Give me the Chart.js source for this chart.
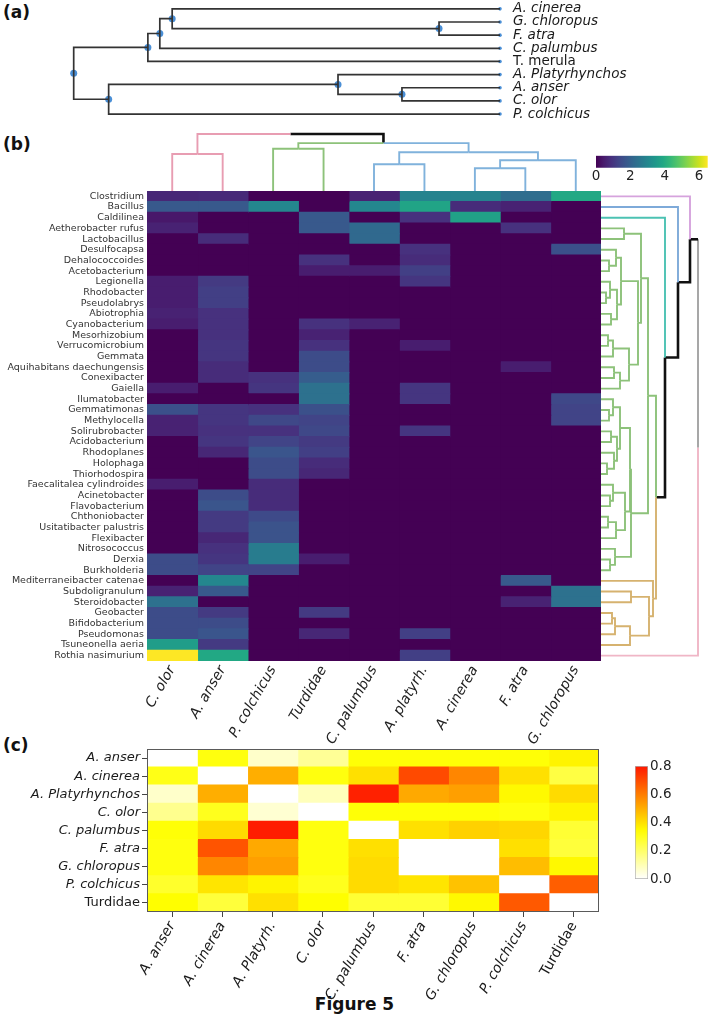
<!DOCTYPE html>
<html><head><meta charset="utf-8">
<script src="https://cdn.jsdelivr.net/npm/chart.js@4.4.1/dist/chart.umd.min.js"></script>
<style>
html,body{margin:0;padding:0;background:#fff;}
#fig{position:relative;width:709px;height:1015px;overflow:hidden;background:#fff;font-family:'DejaVu Sans',sans-serif;}
.lab{position:absolute;font-weight:bold;font-size:17px;color:#111;line-height:1;white-space:nowrap;}
canvas{position:absolute;}
</style></head><body><div id="fig">
<div class="lab" style="left:3px;top:4px">(a)</div>
<div class="lab" style="left:3px;top:136px">(b)</div>
<div class="lab" style="left:3px;top:737px">(c)</div>
<div class="lab" style="left:0;width:709px;text-align:center;top:996px">Figure 5</div>
</div>
<script>
// ---------------- DATA ----------------
// (a) tree
const treeLeaves = ['A. cinerea','G. chloropus','F. atra','C. palumbus','T. merula','A. Platyrhynchos','A. anser','C. olor','P. colchicus'];
const treeItalic = [true,true,true,true,false,true,true,true,true];
const treeLeafDepth = 1;
// [node depth, child, child], leaves = index in treeLeaves
const treeTopology = [0, [0.174, [0.202, [0.231, 0, [0.857, 1, 2]], 3], 4], [0.082, [0.62, 5, [0.77, 6, 7]], 8]];

// (b) heatmap
const bRows = ['Clostridium','Bacillus','Caldilinea','Aetherobacter rufus','Lactobacillus','Desulfocapsa','Dehalococcoides','Acetobacterium','Legionella','Rhodobacter','Pseudolabrys','Abiotrophia','Cyanobacterium','Mesorhizobium','Verrucomicrobium','Gemmata','Aquihabitans daechungensis','Conexibacter','Gaiella','Ilumatobacter','Gemmatimonas','Methylocella','Solirubrobacter','Acidobacterium','Rhodoplanes','Holophaga','Thiorhodospira','Faecalitalea cylindroides','Acinetobacter','Flavobacterium','Chthoniobacter','Usitatibacter palustris','Flexibacter','Nitrosococcus','Derxia','Burkholderia','Mediterraneibacter catenae','Subdoligranulum','Steroidobacter','Geobacter','Bifidobacterium','Pseudomonas','Tsuneonella aeria','Rothia nasimurium'];
const bCols = ['C. olor','A. anser','P. colchicus','Turdidae','C. palumbus','A. platyrh.','A. cinerea','F. atra','G. chloropus'];
const bOlor      = [0.7,1.8,0.4,0.6,0,0,0,0,0.5,0.5, 0.5,0.6,0.5,0,0,0,0,0,0.5,0, 1.6,0.6,0.6,0,0,0,0,0.5,0,0, 0,0,0,0,1.5,1.5,0,0.6,2.4,1.5, 1.5,1.5,3.6,6.5];
const bAnser     = [0.75,1.8,0,0,0.8,0,0,0,1.1,1.2, 1.2,0.9,0.9,0.9,1.0,1.0,0.8,0.8,0,0, 1.0,1.0,0.9,1.0,0.7,0,0,0,1.5,1.7, 1.1,1.1,0.7,0.9,1.0,1.3,3.0,1.8,0,1.1, 1.5,1.7,1.1,3.9];
const bColchicus = [0,3.0,0,0,0,0,0,0,0,0, 0,0,0,0,0,0,0,0.9,1.0,0, 0.9,1.4,0.9,1.3,1.7,1.5,1.5,0.8,0.8,0.8, 1.45,1.65,1.65,2.7,2.7,1.3,0,0,0,0, 0,0,0,0];
const bTurdidae  = [0,0,1.8,1.8,0,0,0.9,0.5,0,0, 0,0,0.9,0.6,0.9,1.5,1.5,1.9,2.4,2.4, 1.6,1.3,1.4,1.1,1.2,0.8,0.7,0,0,0, 0,0,0,0,0.5,0,0,0,0,1.1, 0,0.7,0,0];
const bPalumbus  = [0.6,3.0,0,2.2,2.2,0,0,0.5,0,0, 0,0,0.6,0,0,0,0,0,0,0, 0,0,0,0,0,0,0,0,0,0, 0,0,0,0,0,0,0,0,0,0, 0,0,0,0];
const bPlatyrh   = [2.9,3.8,0.9,0,0,0.9,0.8,1.2,1.0,0, 0,0,0,0,0.5,0,0,0,1.0,1.0, 0,0,1.0,0,0,0,0,0,0,0, 0,0,0,0,0,0,0,0,0,0, 0,1.2,0,1.2];
const bCinerea   = [2.9,0.8,3.7,0,0,0,0,0,0,0, 0,0,0,0,0,0,0,0,0,0, 0,0,0,0,0,0,0,0,0,0, 0,0,0,0,0,0,0,0,0,0, 0,0,0,0];
const bAtra      = [2.3,0.6,0,0.9,0,0,0,0,0,0, 0,0,0,0,0,0,0.5,0,0,0, 0,0,0,0,0,0,0,0,0,0, 0,0,0,0,0,0,1.8,0,0.6,0, 0,0,0,0];
const bChloropus = [3.9,0,0,0,0,1.6,0,0,0,0, 0,0,0,0,0,0,0,0,0,1.4, 1.3,1.3,0,0,0,0,0,0,0,0, 0,0,0,0,0,0,0,2.4,2.4,0, 0,0,0,0];
const bVmax = 6.5;
const bColorbarTicks = [0,2,4,6];
// dendrograms: [height, child, child]; leaves = row / column index
const bRowCluster = ['lav','blue','teal','green','green','green','green','green','green','green','green','green','green','green','green','green','green','green','green','green','green','green','green','green','green','green','green','green','green','green','green','green','green','green','green','green','tan','tan','tan','tan','tan','tan','tan','pink'];
const bRowTree = [9.7,
  [8.9, 0, [7.7, 1, [6.4, 2, [5.5,
    [4.7,
      [4.0, [2.3, 3, 4],
        [3.7,
          [2.0, [1.5, 5, [0.8, 6, 7]], [1.6, [0.9, 8, [0.5, 9, 10]], [1.0, 11, 12]]],
          [2.8, [1.2, [0.7, 13, 14], 15], [1.9, [1.3, 16, 17], 18]]]],
      [3.0,
        [2.9,
          [1.9, [1.2, 19, [0.8, 20, 21]], [1.6, [1.0, 22, 23], [1.3, 24, [0.6, 25, 26]]]],
          [2.4, [1.2, 27, [0.9, 28, 29]], [1.5, [0.7, 30, 31], 32]]],
        [1.4, 33, [0.9, 34, 35]]]],
    [5.2, 36, [4.8, [3.0, 37, 38], [2.9, [1.4, [1.1, 39, 40], 41], 42]]]]]]],
  43];
const bColCluster = ['pink','pink','green','green','blue','blue','blue','blue','blue'];
const bColTree = [10, [6.5, 0, 1], [8.4, [7.4, 2, 3], [6.8, [4.7, 4, 5], [5.4, [4.0, 6, 7], 8]]]];

// (c) heatmap
const cRowLabels = ['A. anser','A. cinerea','A. Platyrhynchos','C. olor','C. palumbus','F. atra','G. chloropus','P. colchicus','Turdidae'];
const cColLabels = ['A. anser','A. cinerea','A. Platyrh.','C. olor','C. palumbus','F. atra','G. chloropus','P. colchicus','Turdidae'];
const cAnser      = [0,0.32,0.07,0.14,0.33,0.33,0.33,0.33,0.36];
const cCinerea    = [0.31,0,0.5,0.32,0.4,0.7,0.58,0.4,0.25];
const cPlatyrhyn  = [0.07,0.5,0,0.09,0.78,0.51,0.53,0.35,0.41];
const cOlor       = [0.15,0.3,0.06,0,0.33,0.33,0.33,0.32,0.36];
const cPalumbus   = [0.33,0.41,0.79,0.32,0,0.4,0.43,0.42,0.27];
const cAtra       = [0.32,0.68,0.51,0.32,0.4,0,0,0.4,0.26];
const cChloropus  = [0.32,0.58,0.53,0.32,0.41,0,0,0.47,0.35];
const cColchicus  = [0.28,0.39,0.36,0.3,0.41,0.39,0.46,0,0.66];
const cTurdidae   = [0.34,0.26,0.4,0.34,0.27,0.27,0.35,0.67,0];
const cColorbarTicks = [0,0.2,0.4,0.6,0.8];
const cColorbarMax = 0.8;

// ---------------- STYLE HELPERS ----------------
const viridisStops = ['#440154','#481a6c','#472f7d','#414487','#39568c','#31688e','#2a788e','#23888e','#1f988b','#22a884','#35b779','#54c568','#7ad151','#a5db36','#d2e21b','#fde725'];
function hexRgb(h){return [parseInt(h.slice(1,3),16),parseInt(h.slice(3,5),16),parseInt(h.slice(5,7),16)];}
function viridis(t){
  t=Math.max(0,Math.min(1,t)); const n=viridisStops.length-1;
  const i=Math.min(n-1,Math.floor(t*n)); const f=t*n-i;
  const a=hexRgb(viridisStops[i]), b=hexRgb(viridisStops[i+1]);
  return 'rgb('+a.map((v,k)=>Math.round(v+(b[k]-v)*f)).join(',')+')';
}
const hotNorm = 1.333;
function hotR(v){
  const x=1-Math.max(0,Math.min(1,v/hotNorm));
  const cl=z=>Math.max(0,Math.min(1,z));
  const r=cl(0.0416+0.9584*x/0.365), g=cl((x-0.365)/0.381), b=cl((x-0.746)/0.254);
  return 'rgb('+Math.round(r*255)+','+Math.round(g*255)+','+Math.round(b*255)+')';
}
const rowClusterColor = {lav:'#d6a3dd', blue:'#7eaad9', teal:'#4cc2b3', green:'#8dc27a', tan:'#d6b26f', pink:'#f0b6c6', above:'#111111'};
const colClusterColor = {pink:'#e89db2', green:'#8dc27a', blue:'#80b2dc', above:'#111111'};
function noPad(s){s.paddingTop=0;s.paddingBottom=0;s.paddingLeft=0;s.paddingRight=0;}

Chart.defaults.animation = false;
Chart.defaults.responsive = false;
Chart.defaults.devicePixelRatio = 1;
Chart.defaults.events = [];
Chart.defaults.font.family = "'DejaVu Sans', sans-serif";
Chart.defaults.plugins.legend.display = false;
Chart.defaults.plugins.tooltip.enabled = false;

const fig = document.getElementById('fig');
function mkCanvas(left, top, w, h){
  const c=document.createElement('canvas'); c.width=w; c.height=h;
  c.style.left=left+'px'; c.style.top=top+'px'; c.style.width=w+'px'; c.style.height=h+'px';
  fig.appendChild(c); return c;
}

// ---------------- (a) TREE ----------------
const aSegs=[], aDots=[];
(function lay(node){
  if(typeof node==='number') return {d:treeLeafDepth, y:node};
  const a=lay(node[1]), b=lay(node[2]); const d=node[0], y=(a.y+b.y)/2;
  aSegs.push([{x:a.d,y:a.y},{x:d,y:a.y},{x:d,y:b.y},{x:b.d,y:b.y}]);
  aDots.push({x:d,y:y});
  return {d:d,y:y};
})(treeTopology);

new Chart(mkCanvas(0,0,709,125),{
  type:'scatter',
  data:{datasets:[
    ...aSegs.map(s=>({data:s, showLine:true, borderColor:'#333333', borderWidth:1.7, pointRadius:0, clip:false})),
    {data:aDots, pointRadius:3.5, pointBackgroundColor:'#4a8fd6', pointBorderWidth:0, clip:false},
    {data:treeLeaves.map((_,i)=>({x:treeLeafDepth,y:i})), pointRadius:1.8, pointBackgroundColor:'#4a8fd6', pointBorderWidth:0, clip:false}
  ]},
  options:{
    layout:{padding:{left:73.7,top:0,right:0,bottom:4.4}},
    scales:{
      x:{display:false,min:0,max:1},
      y:{position:'right',min:-0.368,max:8.5,reverse:true,
        afterFit:s=>{s.width=209;noPad(s);},
        afterBuildTicks:s=>{s.ticks=treeLeaves.map((_,i)=>({value:i}));},
        grid:{display:false,drawTicks:false},border:{display:false},
        ticks:{padding:13,color:'#1a1a1a',autoSkip:false,callback:(v,i)=>treeLeaves[i],
          font:c=>({size:13.5,style:treeItalic[c.index]?'italic':'normal'})}}
    }
  }
});

// ---------------- (b) HEATMAP ----------------
const bSeries=[bOlor,bAnser,bColchicus,bTurdidae,bPalumbus,bPlatyrh,bCinerea,bAtra,bChloropus];
new Chart(mkCanvas(0,186,601,580),{
  type:'bar',
  data:{labels:bRows, datasets:bSeries.map((col,j)=>({
    data:bRows.map(()=>[j,j+1]), backgroundColor:col.map(v=>viridis(v/bVmax)),
    borderWidth:0, inflateAmount:0.6, barPercentage:1, categoryPercentage:1, grouped:false}))},
  options:{indexAxis:'y', layout:{padding:{top:5,left:0,right:0,bottom:0}},
    scales:{
      y:{type:'category',afterFit:s=>{s.width=147;noPad(s);},grid:{display:false,drawTicks:false},border:{display:false},
        ticks:{autoSkip:false,padding:3,color:'#333',font:{size:9.5}}},
      x:{type:'linear',min:0,max:9,afterFit:s=>{s.height=105;noPad(s);},
        afterBuildTicks:s=>{s.ticks=bCols.map((_,j)=>({value:j+0.5}));},
        grid:{display:false,drawTicks:false},border:{display:false},
        ticks:{autoSkip:false,minRotation:60,maxRotation:60,padding:2,color:'#222',callback:(v,i)=>bCols[i],
          font:{size:14,style:'italic'}}}
    }}
});

// dendrogram segments
function dendroSegments(tree, clusterOf){
  const segs=[];
  (function rec(n){
    if(typeof n==='number') return {p:n+0.5,h:0,c:clusterOf[n]};
    const a=rec(n[1]), b=rec(n[2]); const m=(a.p+b.p)/2;
    [a,b].forEach(ch=>segs.push({c:ch.c, pts:[[ch.h,ch.p],[n[0],ch.p],[n[0],m]]}));
    return {p:m,h:n[0],c:a.c===b.c?a.c:'above'};
  })(tree);
  return segs;
}
function segDs(pts,color,width,horiz){
  return {data:pts.map(p=>horiz?{x:p[0],y:p[1]}:{x:p[1],y:p[0]}), showLine:true, borderColor:color, borderWidth:width, pointRadius:0, clip:false};
}

// right (row) dendrogram
const rSegs=dendroSegments(bRowTree,bRowCluster);
const rDs=[];
rSegs.forEach((s,k)=>{
  const col=rowClusterColor[s.c], w=s.c==='above'?2.6:1.9;
  if(k===rSegs.length-2){ // root upper arm: leg black, vertical gray
    rDs.push(segDs([s.pts[0],s.pts[1]],col,w,true));
    rDs.push(segDs([s.pts[1],s.pts[2]],'#8a8a8a',1.5,true));
  } else rDs.push(segDs(s.pts,col,w,true));
});
new Chart(mkCanvas(601,186,108,480),{
  type:'scatter', data:{datasets:rDs},
  options:{layout:{padding:{top:5,bottom:5,left:0,right:0}},
    scales:{x:{display:false,min:0,max:10.8},y:{display:false,min:0,max:bRows.length,reverse:true}}}
});

// top (column) dendrogram
const tSegs=dendroSegments(bColTree,bColCluster);
new Chart(mkCanvas(147,128,454,63),{
  type:'scatter', data:{datasets:tSegs.map(s=>segDs(s.pts,colClusterColor[s.c],s.c==='above'?2.6:1.9,false))},
  options:{layout:{padding:0},
    scales:{x:{display:false,min:0,max:bCols.length},y:{display:false,min:0,max:11.05}}}
});

// colorbar (b)
new Chart(mkCanvas(590,150,119,40),{
  type:'bar',
  data:{labels:['v'],datasets:[{data:[[0,bVmax]],barPercentage:1,categoryPercentage:1,borderWidth:0,
    backgroundColor:c=>{const ca=c.chart.chartArea; if(!ca) return '#440154';
      const g=c.chart.ctx.createLinearGradient(ca.left,0,ca.right,0);
      viridisStops.forEach((s,i)=>g.addColorStop(i/(viridisStops.length-1),s)); return g;}}]},
  options:{indexAxis:'y',layout:{padding:{left:6,right:1.3,top:5.7,bottom:0}},
    scales:{y:{display:false},
      x:{min:0,max:bVmax,afterFit:s=>{s.height=22.3;noPad(s);},afterBuildTicks:s=>{s.ticks=bColorbarTicks.map(v=>({value:v}));},
        grid:{display:false,drawTicks:false},border:{display:false},
        ticks:{padding:1,color:'#222',font:{size:13.5},callback:v=>String(v)}}}}
});

// ---------------- (c) HEATMAP ----------------
const cMatrix=[cAnser,cCinerea,cPlatyrhyn,cOlor,cPalumbus,cAtra,cChloropus,cColchicus,cTurdidae];
const outline={id:'outline',afterDatasetsDraw(ch){const a=ch.chartArea,g=ch.ctx;g.save();g.strokeStyle='#5a5a5a';g.lineWidth=1;
  g.strokeRect(Math.round(a.left)+0.5,Math.round(a.top)+0.5,Math.round(a.right-a.left)-1,Math.round(a.bottom-a.top)-1);g.restore();}};
new Chart(mkCanvas(0,744,620,271),{
  type:'bar',
  data:{labels:cRowLabels,datasets:cColLabels.map((_,j)=>({
    data:cRowLabels.map(()=>[j,j+1]), backgroundColor:cMatrix.map(r=>hotR(r[j])),
    borderWidth:0,inflateAmount:0.6,barPercentage:1,categoryPercentage:1,grouped:false}))},
  options:{indexAxis:'y',layout:{padding:{top:5,right:21,left:0,bottom:0}},
    scales:{
      y:{type:'category',afterFit:s=>{s.width=147;noPad(s);},
        grid:{display:true,drawOnChartArea:false,drawTicks:true,tickLength:5,color:'#444',offset:false},border:{display:false},
        ticks:{autoSkip:false,padding:2,color:'#1a1a1a',
          font:c=>({size:13,style:cRowLabels[c.index]==='Turdidae'?'normal':'italic'})}},
      x:{type:'linear',min:0,max:9,afterFit:s=>{s.height=103;noPad(s);},
        afterBuildTicks:s=>{s.ticks=cColLabels.map((_,j)=>({value:j+0.5}));},
        grid:{display:true,drawOnChartArea:false,drawTicks:true,tickLength:5,color:'#444'},border:{display:false},
        ticks:{autoSkip:false,minRotation:60,maxRotation:60,padding:2,color:'#1a1a1a',callback:(v,i)=>cColLabels[i],
          font:c=>({size:14,style:cColLabels[c.index]==='Turdidae'?'normal':'italic'})}}
    }},
  plugins:[outline]
});

// colorbar (c)
new Chart(mkCanvas(620,755,80,135),{
  type:'bar',
  data:{labels:['v'],datasets:[{data:[[0,cColorbarMax]],barPercentage:1,categoryPercentage:1,borderWidth:1,borderColor:'#b0b0b0',borderSkipped:false,
    backgroundColor:c=>{const ca=c.chart.chartArea; if(!ca) return '#ffff00';
      const g=c.chart.ctx.createLinearGradient(0,ca.bottom,0,ca.top);
      for(let i=0;i<=16;i++){g.addColorStop(i/16,hotR(cColorbarMax*i/16));} return g;}}]},
  options:{layout:{padding:{left:15,right:0,top:11,bottom:11}},
    scales:{x:{display:false},
      y:{position:'right',min:0,max:cColorbarMax,afterFit:s=>{s.width=52;noPad(s);},
        afterBuildTicks:s=>{s.ticks=cColorbarTicks.map(v=>({value:v}));},
        grid:{display:false,drawTicks:false},border:{display:false},
        ticks:{padding:2,color:'#222',font:{size:13.5},callback:v=>v.toFixed(1)}}}}
});
</script></body></html>
